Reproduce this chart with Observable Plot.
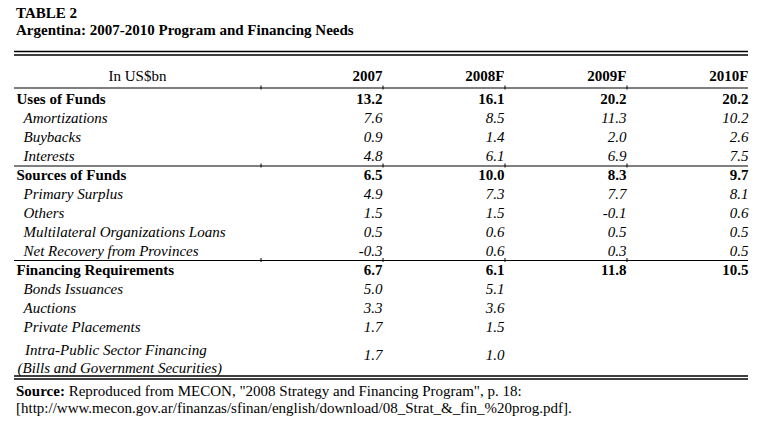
<!DOCTYPE html>
<html>
<head>
<meta charset="utf-8">
<script src="https://cdn.jsdelivr.net/npm/d3@7"></script>
<script src="https://cdn.jsdelivr.net/npm/@observablehq/plot@0.6"></script>
<style>
  html, body { margin: 0; padding: 0; background: #fff; }
  body { font-family: "Liberation Serif", "Times New Roman", serif; color: #000; width: 768px; height: 426px; overflow: hidden; }
  #title { box-sizing: border-box; height: 42px; padding: 5px 0 0 16px; font-weight: bold; font-size: 15px; line-height: 17px; }
  #chart svg { display: block; }
  #source { margin-top: -1.5px; padding-left: 16px; font-size: 15px; line-height: 17px; }
</style>
</head>
<body>
<div id="title">TABLE 2<br>Argentina: 2007-2010 Program and Financing Needs</div>
<div id="chart"></div>
<div id="source"><b>Source:</b> Reproduced from MECON, "2008 Strategy and Financing Program", p. 18:<br>[http://www.mecon.gov.ar/finanzas/sfinan/english/download/08_Strat_&amp;_fin_%20prog.pdf].</div>
<script>
// ---- data ----
const unitLabel = "In US$bn";
const years = ["2007", "2008F", "2009F", "2010F"];
const rowLabels = [
  "Uses of Funds",
  "Amortizations",
  "Buybacks",
  "Interests",
  "Sources of Funds",
  "Primary Surplus",
  "Others",
  "Multilateral Organizations Loans",
  "Net Recovery from Provinces",
  "Financing Requirements",
  "Bonds Issuances",
  "Auctions",
  "Private Placements",
  "Intra-Public Sector Financing\n(Bills and Government Securities)"
];
const rowLevel = ["total","item","item","item","total","item","item","item","item","total","item","item","item","item"];
const v2007  = [13.2, 7.6, 0.9, 4.8, 6.5, 4.9, 1.5, 0.5, -0.3, 6.7, 5.0, 3.3, 1.7, 1.7];
const v2008F = [16.1, 8.5, 1.4, 6.1, 10.0, 7.3, 1.5, 0.6, 0.6, 6.1, 5.1, 3.6, 1.5, 1.0];
const v2009F = [20.2, 11.3, 2.0, 6.9, 8.3, 7.7, -0.1, 0.5, 0.3, 11.8, null, null, null, null];
const v2010F = [20.2, 10.2, 2.6, 7.5, 9.7, 8.1, 0.6, 0.5, 0.5, 10.5, null, null, null, null];
const sectionEnds = ["Interests", "Net Recovery from Provinces"];

// ---- build table ----
const seriesByYear = [v2007, v2008F, v2009F, v2010F];
const rows = rowLabels.map((label, i) => ({label, level: rowLevel[i]}));
const cells = rowLabels.flatMap((label, i) =>
  years.map((yr, j) => ({row: label, col: yr, value: seriesByYear[j][i], level: rowLevel[i]}))
).filter(d => d.value != null);
const lastRow = rowLabels[rowLabels.length - 1];
const cols = ["label", ...years];
const fmt = d => d.value.toFixed(1);
const font = 15;

const chart = Plot.plot({
  width: 768,
  height: 342,
  marginLeft: 14,
  marginRight: 20,
  marginTop: 34.5,
  marginBottom: 34.5,
  x: {type: "point", domain: cols, range: [260, 748], padding: 0, axis: null},
  y: {type: "point", domain: ["header", ...rowLabels], padding: 0, axis: null},
  style: {fontFamily: "'Liberation Serif', 'Times New Roman', serif", background: "#fff", color: "#000"},
  marks: [
    // top double rule
    Plot.ruleY(["header"], {dy: -29, strokeWidth: 1.3}),
    Plot.ruleY(["header"], {dy: -25.5, strokeWidth: 1.3}),
    // header rule + section rules
    Plot.ruleY(["header"], {dy: 7.5, strokeWidth: 1.2}),
    Plot.ruleY(sectionEnds.slice(0, 1), {dy: 9.5, strokeWidth: 1.2}),
    Plot.ruleY(sectionEnds.slice(1), {dy: 9, strokeWidth: 1.2}),
    // bottom double rule
    Plot.ruleY([lastRow], {dy: 29.5, strokeWidth: 1.3}),
    Plot.ruleY([lastRow], {dy: 32.5, strokeWidth: 1.3}),
    // small column ticks on rules
    Plot.ruleX(cols.slice(0, 4), {x: d => d, y1: () => "header", y2: () => "header", dy: 7.5, dx: 0.5, insetTop: -2, insetBottom: -2, strokeWidth: 1}),
    Plot.ruleX(cols.slice(0, 4), {x: d => d, y1: () => sectionEnds[0], y2: () => sectionEnds[0], dy: 9.5, dx: 0.5, insetTop: -2, insetBottom: -2, strokeWidth: 1}),
    Plot.ruleX(cols.slice(0, 4), {x: d => d, y1: () => sectionEnds[1], y2: () => sectionEnds[1], dy: 9, dx: 0.5, insetTop: -2, insetBottom: -2, strokeWidth: 1}),
    // header
    Plot.text([unitLabel], {x: () => "label", y: () => "header", text: d => d, dx: -123, dy: -4.5, fontSize: font, textAnchor: "middle"}),
    Plot.text(years, {x: d => d, y: () => "header", text: d => d, dy: -4.5, fontSize: font, fontWeight: "bold", textAnchor: "end"}),
    // row labels
    Plot.text(rows.filter(d => d.level === "total"), {x: () => "label", y: "label", text: "label", dx: -244, fontSize: font, fontWeight: "bold", textAnchor: "start"}),
    Plot.text(rows.filter(d => d.level === "item" && d.label !== lastRow), {x: () => "label", y: "label", text: "label", dx: -237, fontSize: font, fontStyle: "italic", textAnchor: "start"}),
    Plot.text(rows.filter(d => d.label === lastRow), {x: () => "label", y: "label", text: d => "\u00a0\u00a0" + d.label, dx: -243, dy: 12, fontSize: font, fontStyle: "italic", textAnchor: "start", lineHeight: 1.15}),
    // values
    Plot.text(cells.filter(d => d.level === "total"), {x: "col", y: "row", text: fmt, fontSize: font, fontWeight: "bold", textAnchor: "end"}),
    Plot.text(cells.filter(d => d.level === "item" && d.row !== lastRow), {x: "col", y: "row", text: fmt, fontSize: font, fontStyle: "italic", textAnchor: "end"}),
    Plot.text(cells.filter(d => d.row === lastRow), {x: "col", y: "row", text: fmt, dy: 8.5, fontSize: font, fontStyle: "italic", textAnchor: "end"})
  ]
});
document.getElementById("chart").append(chart);
</script>
</body>
</html>
